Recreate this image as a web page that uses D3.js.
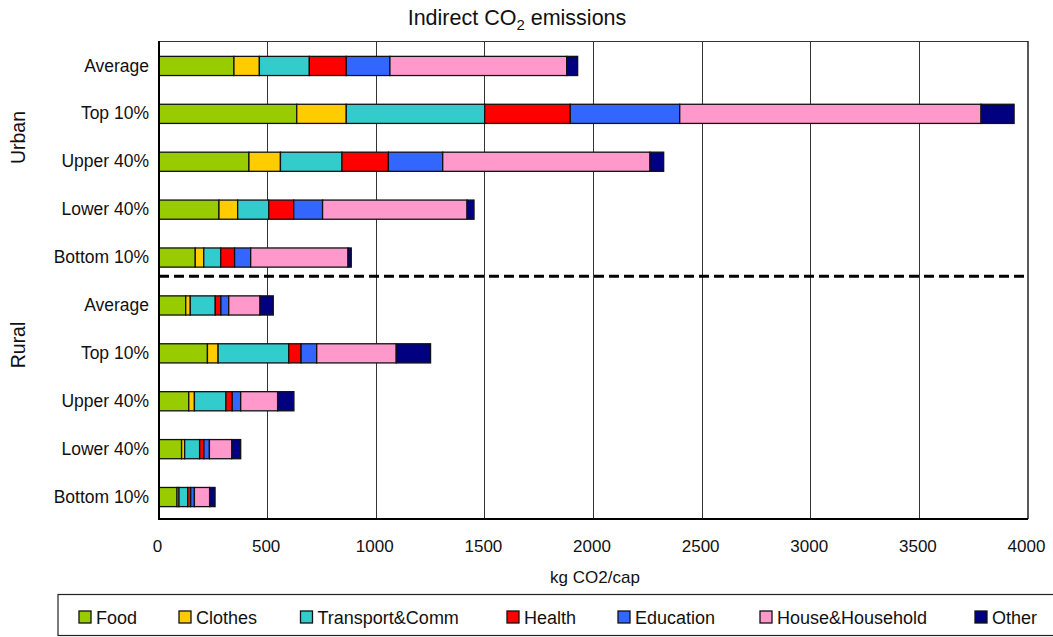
<!DOCTYPE html>
<html>
<head>
<meta charset="utf-8">
<script src="https://cdn.jsdelivr.net/npm/d3@7"></script>
<style>
  html, body { margin: 0; padding: 0; background: #fff; }
  svg { display: block; font-family: "Liberation Sans", Arial, sans-serif; }
</style>
</head>
<body>
<svg id="chart" width="1053" height="637"></svg>
<script>
// ---- data ----
const groups = ["Urban", "Rural"];
const categories = ["Average", "Top 10%", "Upper 40%", "Lower 40%", "Bottom 10%"];
const seriesNames = ["Food", "Clothes", "Transport&Comm", "Health", "Education", "House&Household", "Other"];
const seriesColors = ["#99CC00", "#FFCC00", "#33CCCC", "#FF0000", "#3366FF", "#FF99CC", "#000080"];
// rows: Urban Average, Top10, Upper40, Lower40, Bottom10, Rural Average, Top10, Upper40, Lower40, Bottom10
const food      = [345, 634, 414, 276, 167, 123, 223, 137, 104, 83];
const clothes   = [117, 228, 145,  86,  39,  21,  49,  26,  14,  9];
const transport = [230, 637, 283, 143,  78, 115, 325, 145,  69, 40];
const health    = [170, 394, 214, 115,  64,  26,  57,  29,  20, 14];
const education = [201, 504, 250, 133,  74,  36,  72,  39,  25, 17];
const house     = [814, 1387, 954, 665, 448, 144, 366, 170, 103, 70];
const other     = [ 50, 152,  63,  32,  15,  61, 158,  75,  41, 25];
const xTicks = [0, 500, 1000, 1500, 2000, 2500, 3000, 3500, 4000];

// ---- build table ----
const seriesValues = [food, clothes, transport, health, education, house, other];
const rows = [];
groups.forEach((g, gi) => categories.forEach((c, ci) => {
  const i = gi * categories.length + ci;
  const r = { key: g + "|" + c, group: g, label: c };
  seriesNames.forEach((s, si) => r[s] = seriesValues[si][i]);
  rows.push(r);
}));

const svg = d3.select("#chart");
const plot = { left: 159, right: 1028, top: 41, bottom: 519 };

const x = d3.scaleLinear().domain([0, 4000]).range([plot.left, plot.right]);
const y = d3.scaleBand().domain(rows.map(d => d.key)).range([42, 521])
  .paddingInner(0.6).paddingOuter(0.3);
const color = d3.scaleOrdinal().domain(seriesNames).range(seriesColors);

// gridlines
svg.append("g").selectAll("line").data(xTicks.filter(t => t > 0 && t < 4000)).join("line")
  .attr("x1", d => x(d)).attr("x2", d => x(d))
  .attr("y1", plot.top).attr("y2", plot.bottom)
  .attr("stroke", "#333").attr("stroke-width", 1).attr("shape-rendering", "crispEdges");

// plot frame
svg.append("line").attr("x1", plot.left).attr("x2", plot.right).attr("y1", plot.top + 0.5).attr("y2", plot.top + 0.5)
  .attr("stroke", "#333").attr("stroke-width", 1);
svg.append("line").attr("x1", plot.right).attr("x2", plot.right).attr("y1", plot.top).attr("y2", plot.bottom)
  .attr("stroke", "#222").attr("stroke-width", 1.5);

// stacked bars
const stack = d3.stack().keys(seriesNames);
const stacked = stack(rows);
svg.append("g").selectAll("g").data(stacked).join("g")
  .attr("fill", d => color(d.key))
  .selectAll("rect").data(d => d).join("rect")
  .attr("x", d => x(d[0]))
  .attr("width", d => x(d[1]) - x(d[0]))
  .attr("y", d => y(d.data.key))
  .attr("height", y.bandwidth())
  .attr("stroke", "#111").attr("stroke-width", 1.3);

// dashed separator between urban and rural
const lastUrban = rows[categories.length - 1].key;
const sepY = y(lastUrban) + y.bandwidth() + y.step() * 0.19;
svg.append("line").attr("x1", plot.left).attr("x2", plot.right)
  .attr("y1", sepY).attr("y2", sepY)
  .attr("stroke", "#000").attr("stroke-width", 3).attr("stroke-dasharray", "10,5");

// axes lines
svg.append("line").attr("x1", plot.left).attr("x2", plot.left).attr("y1", plot.top).attr("y2", plot.bottom + 1)
  .attr("stroke", "#000").attr("stroke-width", 2);
svg.append("line").attr("x1", plot.left - 1).attr("x2", plot.right).attr("y1", plot.bottom).attr("y2", plot.bottom)
  .attr("stroke", "#000").attr("stroke-width", 2);

// x axis tick labels
const xAxis = d3.axisBottom(x).tickValues(xTicks).tickFormat(d3.format("d")).tickSize(0).tickPadding(0);
const gx = svg.append("g").attr("transform", `translate(-2,${plot.bottom + 21})`).call(xAxis);
gx.select(".domain").remove();
gx.selectAll("text").attr("font-size", 17).attr("fill", "#111")
  .attr("font-family", "'Liberation Sans', Arial, sans-serif").attr("dy", "0.71em");

// y axis labels
const yAxis = d3.axisLeft(y).tickFormat(k => k.split("|")[1]).tickSize(0).tickPadding(10);
const gy = svg.append("g").attr("transform", `translate(${plot.left},0)`).call(yAxis);
gy.select(".domain").remove();
gy.selectAll("text").attr("font-size", 17.5).attr("fill", "#111")
  .attr("font-family", "'Liberation Sans', Arial, sans-serif");

// group labels
svg.append("text").attr("transform", "translate(25,137.5) rotate(-90)")
  .attr("text-anchor", "middle").attr("font-size", 19.5).attr("fill", "#111").text(groups[0]);
svg.append("text").attr("transform", "translate(25,345) rotate(-90)")
  .attr("text-anchor", "middle").attr("font-size", 19.5).attr("fill", "#111").text(groups[1]);

// title
const title = svg.append("text").attr("x", 517).attr("y", 25).attr("text-anchor", "middle")
  .attr("font-size", 21.5).attr("fill", "#111");
title.append("tspan").text("Indirect CO");
title.append("tspan").attr("font-size", 15).attr("dy", 5).text("2");
title.append("tspan").attr("dy", -5).text(" emissions");

// x axis title
svg.append("text").attr("x", 595).attr("y", 583).attr("text-anchor", "middle")
  .attr("font-size", 17).attr("fill", "#111").text("kg CO2/cap");

// legend
svg.append("rect").attr("x", 58).attr("y", 594.5).attr("width", 1010).attr("height", 41)
  .attr("fill", "none").attr("stroke", "#222").attr("stroke-width", 1.2);
const legendX = [79, 179, 300.5, 507, 618, 760, 975];
const leg = svg.append("g");
seriesNames.forEach((s, i) => {
  leg.append("rect").attr("x", legendX[i]).attr("y", 611).attr("width", 12).attr("height", 12)
    .attr("fill", seriesColors[i]).attr("stroke", "#111").attr("stroke-width", 1.3);
  leg.append("text").attr("x", legendX[i] + 17).attr("y", 623.5)
    .attr("font-size", 18).attr("fill", "#111").text(s);
});
</script>
</body>
</html>
